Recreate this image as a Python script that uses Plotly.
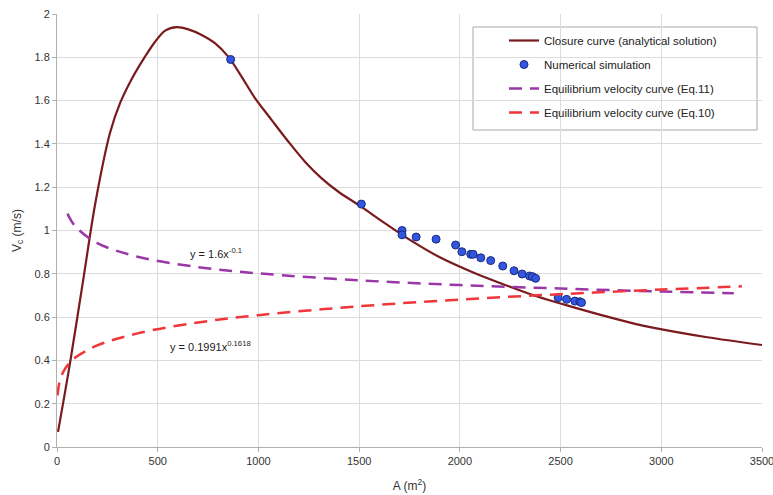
import plotly.graph_objects as go

# Closure curve (analytical solution)
closure_A = [5, 65, 129, 190, 263, 313, 371, 437, 487, 537, 595, 652, 718,
             784, 850, 917, 983, 1066, 1149, 1231, 1314, 1397, 1497, 1629, 1760, 1903, 2069,
             2235, 2384, 2566, 2732, 2897, 3063, 3228, 3500]
closure_V = [0.07, 0.39, 0.765, 1.125, 1.45, 1.588, 1.70, 1.803, 1.872,
             1.923, 1.939, 1.929, 1.903, 1.865, 1.803, 1.710, 1.611, 1.510, 1.410, 1.318, 1.241,
             1.179, 1.118, 1.033, 0.952, 0.875, 0.805, 0.745, 0.695, 0.645, 0.602, 0.563, 0.533,
             0.507, 0.471]

# Numerical simulation points
sim_A = [862, 1511, 1713, 1713, 1783, 1882, 1979, 2010, 2054, 2066, 2104, 2153, 2213,
         2269, 2309, 2346, 2360, 2376, 2488, 2530, 2571, 2596, 2604]
sim_V = [1.79, 1.122, 1.00, 0.98, 0.97, 0.96, 0.933, 0.902, 0.89, 0.89, 0.874, 0.861, 0.836,
         0.814, 0.799, 0.79, 0.787, 0.779, 0.69, 0.682, 0.674, 0.671, 0.667]

# Equilibrium velocity curve (Eq.11)
eq11_A = [52, 70, 100, 200, 400, 700, 1000, 1500, 2000, 2500, 3000, 3360]
eq11_V = [1.078, 1.046, 1.01, 0.942, 0.879, 0.831, 0.802, 0.770, 0.748, 0.732, 0.718, 0.710]

# Equilibrium velocity curve (Eq.10)
eq10_A = [3, 10, 30, 60, 100, 200, 400, 700, 1000, 1500, 2000, 2500, 3000, 3400]
eq10_V = [0.238, 0.289, 0.345, 0.386, 0.419, 0.469, 0.525, 0.575, 0.609, 0.650, 0.681, 0.706, 0.727, 0.742]

x_ticks = [0, 500, 1000, 1500, 2000, 2500, 3000, 3500]
y_ticks = [0, 0.2, 0.4, 0.6, 0.8, 1, 1.2, 1.4, 1.6, 1.8, 2]

FONT = "Liberation Sans, Arial, sans-serif"

fig = go.Figure()
fig.add_trace(go.Scatter(x=closure_A, y=closure_V, mode="lines",
                         line=dict(color="#7a1a1c", width=2.2, shape="spline", smoothing=0.9),
                         name="Closure curve (analytical solution)", legendgroup="a"))
fig.add_trace(go.Scatter(x=sim_A, y=sim_V, mode="markers",
                         marker=dict(color="#3356e0", size=8, line=dict(color="#1a2a80", width=1)),
                         name="Numerical simulation", legendgroup="b"))
fig.add_trace(go.Scatter(x=eq11_A, y=eq11_V, mode="lines",
                         line=dict(color="#9b36a8", width=2.5, dash="13px,8px", shape="spline"),
                         name="Equilibrium velocity curve (Eq.11)", legendgroup="c"))
fig.add_trace(go.Scatter(x=eq10_A, y=eq10_V, mode="lines",
                         line=dict(color="#f0363a", width=2.5, dash="13px,8px", shape="spline"),
                         name="Equilibrium velocity curve (Eq.10)", legendgroup="d"))

fig.add_annotation(x=650, y=0.896, xref="x", yref="y", xanchor="left", yanchor="middle",
                   text="y = 1.6x<sup>-0.1</sup>", showarrow=False,
                   font=dict(family=FONT, size=11, color="#222"))
fig.add_annotation(x=551, y=0.467, xref="x", yref="y", xanchor="left", yanchor="middle",
                   text="y = 0.1991x<sup>0.1618</sup>", showarrow=False,
                   font=dict(family=FONT, size=11, color="#222"))

# legend frame
fig.add_shape(type="rect", xref="paper", yref="paper",
              x0=(473 - 57) / 705, x1=(757 - 57) / 705,
              y0=(447 - 130) / 433, y1=(447 - 27) / 433,
              line=dict(color="#a8a8a8", width=1), fillcolor="white", layer="below")

fig.update_layout(
    width=773, height=495,
    margin=dict(l=57, r=11, t=14, b=48, autoexpand=False),
    paper_bgcolor="white", plot_bgcolor="white",
    font=dict(family=FONT, size=11, color="#333"),
    showlegend=True,
    legend=dict(x=(504 - 57) / 705, y=(447 - 26) / 433, xanchor="left", yanchor="top",
                bgcolor="rgba(0,0,0,0)", borderwidth=0,
                font=dict(family=FONT, size=11.5, color="#222"),
                traceorder="grouped", tracegroupgap=5),
    xaxis=dict(range=[0, 3500], tickvals=x_ticks, showgrid=True, gridcolor="#dcdcdc",
               zeroline=False, showline=True, linecolor="#b0b0b0", ticks="outside",
               ticklen=4, tickcolor="#b0b0b0", automargin=False, ticklabeloverflow="allow",
               title=dict(text="A (m<sup>2</sup>)", font=dict(size=12, color="#333"), standoff=15)),
    yaxis=dict(range=[0, 2], tickvals=y_ticks, showgrid=True, gridcolor="#dcdcdc",
               zeroline=False, showline=True, linecolor="#b0b0b0", ticks="outside",
               ticklen=4, tickcolor="#b0b0b0", automargin=False, ticklabeloverflow="allow",
               title=dict(text="V<sub>c</sub> (m/s)", font=dict(size=12, color="#333"), standoff=10)),
)

fig.write_html("out.html", config={"displayModeBar": False})

# remove the default page margin so the figure fills the window exactly
with open("out.html", "r", encoding="utf-8") as f:
    html = f.read()
html = html.replace("<body>", '<body style="margin:0;padding:0;overflow:hidden">', 1)
with open("out.html", "w", encoding="utf-8") as f:
    f.write(html)
